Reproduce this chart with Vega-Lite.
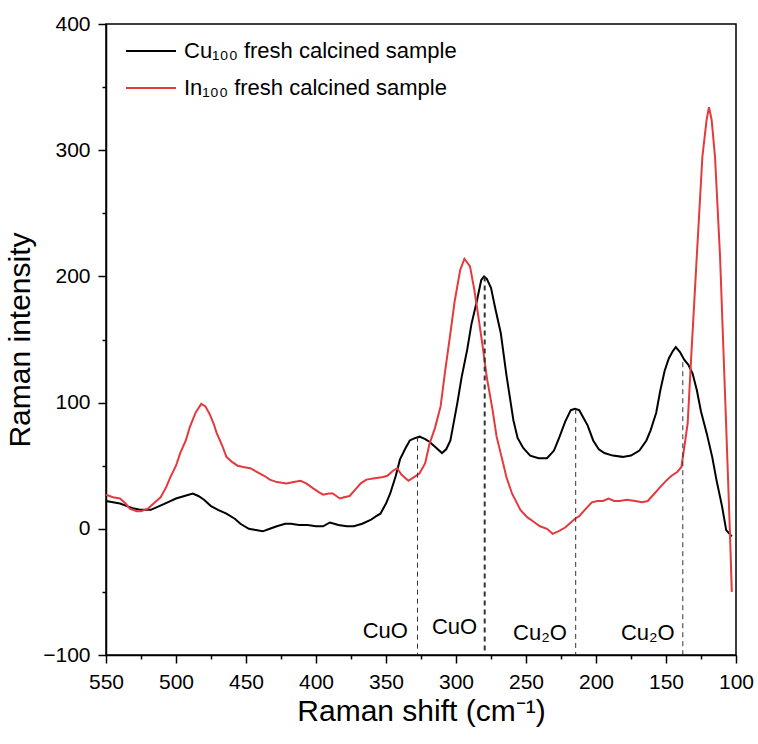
{
  "$schema": "https://vega.github.io/schema/vega-lite/v6.json",
  "width": 630,
  "height": 631,
  "autosize": "none",
  "padding": {"left": 106, "top": 24, "right": 22, "bottom": 89},
  "background": "white",
  "config": {
    "view": {"stroke": "black", "strokeWidth": 1.5},
    "font": "Liberation Sans",
    "axis": {"domainColor": "black", "domainWidth": 1.5, "tickColor": "black", "tickWidth": 1.5, "labelColor": "black", "titleColor": "black", "grid": false, "labelFont": "Liberation Sans", "titleFont": "Liberation Sans", "titleFontWeight": "normal"}
  },
  "datasets": {
    "spectra": [
      {"sample": "Cu₁₀₀ fresh calcined sample", "shift": 550, "intensity": 22},
      {"sample": "Cu₁₀₀ fresh calcined sample", "shift": 545, "intensity": 21},
      {"sample": "Cu₁₀₀ fresh calcined sample", "shift": 540, "intensity": 20},
      {"sample": "Cu₁₀₀ fresh calcined sample", "shift": 535, "intensity": 18},
      {"sample": "Cu₁₀₀ fresh calcined sample", "shift": 530, "intensity": 16},
      {"sample": "Cu₁₀₀ fresh calcined sample", "shift": 525, "intensity": 15},
      {"sample": "Cu₁₀₀ fresh calcined sample", "shift": 518, "intensity": 15},
      {"sample": "Cu₁₀₀ fresh calcined sample", "shift": 512, "intensity": 18},
      {"sample": "Cu₁₀₀ fresh calcined sample", "shift": 506, "intensity": 21},
      {"sample": "Cu₁₀₀ fresh calcined sample", "shift": 500, "intensity": 24},
      {"sample": "Cu₁₀₀ fresh calcined sample", "shift": 494, "intensity": 26},
      {"sample": "Cu₁₀₀ fresh calcined sample", "shift": 488, "intensity": 28},
      {"sample": "Cu₁₀₀ fresh calcined sample", "shift": 484, "intensity": 26},
      {"sample": "Cu₁₀₀ fresh calcined sample", "shift": 480, "intensity": 23},
      {"sample": "Cu₁₀₀ fresh calcined sample", "shift": 475, "intensity": 18},
      {"sample": "Cu₁₀₀ fresh calcined sample", "shift": 470, "intensity": 15},
      {"sample": "Cu₁₀₀ fresh calcined sample", "shift": 464, "intensity": 12},
      {"sample": "Cu₁₀₀ fresh calcined sample", "shift": 458, "intensity": 8},
      {"sample": "Cu₁₀₀ fresh calcined sample", "shift": 454, "intensity": 4},
      {"sample": "Cu₁₀₀ fresh calcined sample", "shift": 448, "intensity": 0},
      {"sample": "Cu₁₀₀ fresh calcined sample", "shift": 443, "intensity": -1},
      {"sample": "Cu₁₀₀ fresh calcined sample", "shift": 438, "intensity": -2},
      {"sample": "Cu₁₀₀ fresh calcined sample", "shift": 433, "intensity": 0},
      {"sample": "Cu₁₀₀ fresh calcined sample", "shift": 428, "intensity": 2},
      {"sample": "Cu₁₀₀ fresh calcined sample", "shift": 422, "intensity": 4},
      {"sample": "Cu₁₀₀ fresh calcined sample", "shift": 418, "intensity": 4},
      {"sample": "Cu₁₀₀ fresh calcined sample", "shift": 412, "intensity": 3},
      {"sample": "Cu₁₀₀ fresh calcined sample", "shift": 406, "intensity": 3},
      {"sample": "Cu₁₀₀ fresh calcined sample", "shift": 400, "intensity": 2},
      {"sample": "Cu₁₀₀ fresh calcined sample", "shift": 395, "intensity": 2},
      {"sample": "Cu₁₀₀ fresh calcined sample", "shift": 390, "intensity": 5},
      {"sample": "Cu₁₀₀ fresh calcined sample", "shift": 384, "intensity": 3},
      {"sample": "Cu₁₀₀ fresh calcined sample", "shift": 378, "intensity": 2},
      {"sample": "Cu₁₀₀ fresh calcined sample", "shift": 373, "intensity": 2},
      {"sample": "Cu₁₀₀ fresh calcined sample", "shift": 367, "intensity": 4},
      {"sample": "Cu₁₀₀ fresh calcined sample", "shift": 361, "intensity": 7},
      {"sample": "Cu₁₀₀ fresh calcined sample", "shift": 357, "intensity": 10},
      {"sample": "Cu₁₀₀ fresh calcined sample", "shift": 354, "intensity": 12},
      {"sample": "Cu₁₀₀ fresh calcined sample", "shift": 350, "intensity": 20},
      {"sample": "Cu₁₀₀ fresh calcined sample", "shift": 347, "intensity": 28},
      {"sample": "Cu₁₀₀ fresh calcined sample", "shift": 343, "intensity": 42},
      {"sample": "Cu₁₀₀ fresh calcined sample", "shift": 340, "intensity": 55},
      {"sample": "Cu₁₀₀ fresh calcined sample", "shift": 336, "intensity": 64},
      {"sample": "Cu₁₀₀ fresh calcined sample", "shift": 333, "intensity": 70},
      {"sample": "Cu₁₀₀ fresh calcined sample", "shift": 329, "intensity": 72},
      {"sample": "Cu₁₀₀ fresh calcined sample", "shift": 326, "intensity": 73},
      {"sample": "Cu₁₀₀ fresh calcined sample", "shift": 322, "intensity": 71},
      {"sample": "Cu₁₀₀ fresh calcined sample", "shift": 319, "intensity": 69},
      {"sample": "Cu₁₀₀ fresh calcined sample", "shift": 314, "intensity": 64},
      {"sample": "Cu₁₀₀ fresh calcined sample", "shift": 310, "intensity": 60},
      {"sample": "Cu₁₀₀ fresh calcined sample", "shift": 307, "intensity": 63},
      {"sample": "Cu₁₀₀ fresh calcined sample", "shift": 304, "intensity": 70},
      {"sample": "Cu₁₀₀ fresh calcined sample", "shift": 302, "intensity": 82},
      {"sample": "Cu₁₀₀ fresh calcined sample", "shift": 299, "intensity": 100},
      {"sample": "Cu₁₀₀ fresh calcined sample", "shift": 296, "intensity": 120},
      {"sample": "Cu₁₀₀ fresh calcined sample", "shift": 292, "intensity": 142},
      {"sample": "Cu₁₀₀ fresh calcined sample", "shift": 289, "intensity": 162},
      {"sample": "Cu₁₀₀ fresh calcined sample", "shift": 285, "intensity": 181},
      {"sample": "Cu₁₀₀ fresh calcined sample", "shift": 282, "intensity": 197},
      {"sample": "Cu₁₀₀ fresh calcined sample", "shift": 280, "intensity": 200},
      {"sample": "Cu₁₀₀ fresh calcined sample", "shift": 278, "intensity": 198},
      {"sample": "Cu₁₀₀ fresh calcined sample", "shift": 275, "intensity": 191},
      {"sample": "Cu₁₀₀ fresh calcined sample", "shift": 272, "intensity": 175},
      {"sample": "Cu₁₀₀ fresh calcined sample", "shift": 268, "intensity": 155},
      {"sample": "Cu₁₀₀ fresh calcined sample", "shift": 264, "intensity": 122},
      {"sample": "Cu₁₀₀ fresh calcined sample", "shift": 259, "intensity": 86},
      {"sample": "Cu₁₀₀ fresh calcined sample", "shift": 256, "intensity": 72},
      {"sample": "Cu₁₀₀ fresh calcined sample", "shift": 252, "intensity": 64},
      {"sample": "Cu₁₀₀ fresh calcined sample", "shift": 247, "intensity": 58},
      {"sample": "Cu₁₀₀ fresh calcined sample", "shift": 241, "intensity": 56},
      {"sample": "Cu₁₀₀ fresh calcined sample", "shift": 235, "intensity": 56},
      {"sample": "Cu₁₀₀ fresh calcined sample", "shift": 230, "intensity": 62},
      {"sample": "Cu₁₀₀ fresh calcined sample", "shift": 226, "intensity": 73},
      {"sample": "Cu₁₀₀ fresh calcined sample", "shift": 222, "intensity": 85},
      {"sample": "Cu₁₀₀ fresh calcined sample", "shift": 218, "intensity": 94},
      {"sample": "Cu₁₀₀ fresh calcined sample", "shift": 215, "intensity": 95},
      {"sample": "Cu₁₀₀ fresh calcined sample", "shift": 212, "intensity": 94},
      {"sample": "Cu₁₀₀ fresh calcined sample", "shift": 209, "intensity": 88},
      {"sample": "Cu₁₀₀ fresh calcined sample", "shift": 206, "intensity": 82},
      {"sample": "Cu₁₀₀ fresh calcined sample", "shift": 202, "intensity": 70},
      {"sample": "Cu₁₀₀ fresh calcined sample", "shift": 198, "intensity": 63},
      {"sample": "Cu₁₀₀ fresh calcined sample", "shift": 194, "intensity": 60},
      {"sample": "Cu₁₀₀ fresh calcined sample", "shift": 188, "intensity": 58},
      {"sample": "Cu₁₀₀ fresh calcined sample", "shift": 181, "intensity": 57},
      {"sample": "Cu₁₀₀ fresh calcined sample", "shift": 175, "intensity": 58},
      {"sample": "Cu₁₀₀ fresh calcined sample", "shift": 169, "intensity": 62},
      {"sample": "Cu₁₀₀ fresh calcined sample", "shift": 164, "intensity": 70},
      {"sample": "Cu₁₀₀ fresh calcined sample", "shift": 161, "intensity": 78},
      {"sample": "Cu₁₀₀ fresh calcined sample", "shift": 157, "intensity": 92},
      {"sample": "Cu₁₀₀ fresh calcined sample", "shift": 154, "intensity": 110},
      {"sample": "Cu₁₀₀ fresh calcined sample", "shift": 151, "intensity": 125},
      {"sample": "Cu₁₀₀ fresh calcined sample", "shift": 148, "intensity": 135},
      {"sample": "Cu₁₀₀ fresh calcined sample", "shift": 145, "intensity": 141},
      {"sample": "Cu₁₀₀ fresh calcined sample", "shift": 143, "intensity": 144},
      {"sample": "Cu₁₀₀ fresh calcined sample", "shift": 140, "intensity": 140},
      {"sample": "Cu₁₀₀ fresh calcined sample", "shift": 137, "intensity": 134},
      {"sample": "Cu₁₀₀ fresh calcined sample", "shift": 134, "intensity": 130},
      {"sample": "Cu₁₀₀ fresh calcined sample", "shift": 131, "intensity": 123},
      {"sample": "Cu₁₀₀ fresh calcined sample", "shift": 128, "intensity": 110},
      {"sample": "Cu₁₀₀ fresh calcined sample", "shift": 125, "intensity": 93},
      {"sample": "Cu₁₀₀ fresh calcined sample", "shift": 121, "intensity": 76},
      {"sample": "Cu₁₀₀ fresh calcined sample", "shift": 117, "intensity": 57},
      {"sample": "Cu₁₀₀ fresh calcined sample", "shift": 114, "intensity": 39},
      {"sample": "Cu₁₀₀ fresh calcined sample", "shift": 110, "intensity": 18},
      {"sample": "Cu₁₀₀ fresh calcined sample", "shift": 107, "intensity": -1},
      {"sample": "Cu₁₀₀ fresh calcined sample", "shift": 103, "intensity": -6},
      {"sample": "In₁₀₀ fresh calcined sample", "shift": 550, "intensity": 27},
      {"sample": "In₁₀₀ fresh calcined sample", "shift": 545, "intensity": 25},
      {"sample": "In₁₀₀ fresh calcined sample", "shift": 540, "intensity": 24},
      {"sample": "In₁₀₀ fresh calcined sample", "shift": 536, "intensity": 20},
      {"sample": "In₁₀₀ fresh calcined sample", "shift": 533, "intensity": 16},
      {"sample": "In₁₀₀ fresh calcined sample", "shift": 528, "intensity": 14},
      {"sample": "In₁₀₀ fresh calcined sample", "shift": 525, "intensity": 14},
      {"sample": "In₁₀₀ fresh calcined sample", "shift": 520, "intensity": 16},
      {"sample": "In₁₀₀ fresh calcined sample", "shift": 515, "intensity": 21},
      {"sample": "In₁₀₀ fresh calcined sample", "shift": 511, "intensity": 25},
      {"sample": "In₁₀₀ fresh calcined sample", "shift": 507, "intensity": 33},
      {"sample": "In₁₀₀ fresh calcined sample", "shift": 504, "intensity": 41},
      {"sample": "In₁₀₀ fresh calcined sample", "shift": 500, "intensity": 50},
      {"sample": "In₁₀₀ fresh calcined sample", "shift": 497, "intensity": 60},
      {"sample": "In₁₀₀ fresh calcined sample", "shift": 493, "intensity": 70},
      {"sample": "In₁₀₀ fresh calcined sample", "shift": 490, "intensity": 81},
      {"sample": "In₁₀₀ fresh calcined sample", "shift": 486, "intensity": 92},
      {"sample": "In₁₀₀ fresh calcined sample", "shift": 482, "intensity": 99},
      {"sample": "In₁₀₀ fresh calcined sample", "shift": 479, "intensity": 97},
      {"sample": "In₁₀₀ fresh calcined sample", "shift": 476, "intensity": 91},
      {"sample": "In₁₀₀ fresh calcined sample", "shift": 473, "intensity": 83},
      {"sample": "In₁₀₀ fresh calcined sample", "shift": 471, "intensity": 76},
      {"sample": "In₁₀₀ fresh calcined sample", "shift": 467, "intensity": 66},
      {"sample": "In₁₀₀ fresh calcined sample", "shift": 464, "intensity": 57},
      {"sample": "In₁₀₀ fresh calcined sample", "shift": 460, "intensity": 53},
      {"sample": "In₁₀₀ fresh calcined sample", "shift": 456, "intensity": 50},
      {"sample": "In₁₀₀ fresh calcined sample", "shift": 452, "intensity": 49},
      {"sample": "In₁₀₀ fresh calcined sample", "shift": 447, "intensity": 48},
      {"sample": "In₁₀₀ fresh calcined sample", "shift": 442, "intensity": 45},
      {"sample": "In₁₀₀ fresh calcined sample", "shift": 437, "intensity": 42},
      {"sample": "In₁₀₀ fresh calcined sample", "shift": 433, "intensity": 39},
      {"sample": "In₁₀₀ fresh calcined sample", "shift": 428, "intensity": 37},
      {"sample": "In₁₀₀ fresh calcined sample", "shift": 421, "intensity": 36},
      {"sample": "In₁₀₀ fresh calcined sample", "shift": 416, "intensity": 37},
      {"sample": "In₁₀₀ fresh calcined sample", "shift": 411, "intensity": 38},
      {"sample": "In₁₀₀ fresh calcined sample", "shift": 407, "intensity": 36},
      {"sample": "In₁₀₀ fresh calcined sample", "shift": 402, "intensity": 32},
      {"sample": "In₁₀₀ fresh calcined sample", "shift": 398, "intensity": 29},
      {"sample": "In₁₀₀ fresh calcined sample", "shift": 395, "intensity": 27},
      {"sample": "In₁₀₀ fresh calcined sample", "shift": 391, "intensity": 28},
      {"sample": "In₁₀₀ fresh calcined sample", "shift": 388, "intensity": 28},
      {"sample": "In₁₀₀ fresh calcined sample", "shift": 383, "intensity": 24},
      {"sample": "In₁₀₀ fresh calcined sample", "shift": 380, "intensity": 25},
      {"sample": "In₁₀₀ fresh calcined sample", "shift": 376, "intensity": 26},
      {"sample": "In₁₀₀ fresh calcined sample", "shift": 372, "intensity": 31},
      {"sample": "In₁₀₀ fresh calcined sample", "shift": 368, "intensity": 36},
      {"sample": "In₁₀₀ fresh calcined sample", "shift": 364, "intensity": 39},
      {"sample": "In₁₀₀ fresh calcined sample", "shift": 358, "intensity": 40},
      {"sample": "In₁₀₀ fresh calcined sample", "shift": 352, "intensity": 41},
      {"sample": "In₁₀₀ fresh calcined sample", "shift": 349, "intensity": 42},
      {"sample": "In₁₀₀ fresh calcined sample", "shift": 345, "intensity": 46},
      {"sample": "In₁₀₀ fresh calcined sample", "shift": 342, "intensity": 48},
      {"sample": "In₁₀₀ fresh calcined sample", "shift": 339, "intensity": 43},
      {"sample": "In₁₀₀ fresh calcined sample", "shift": 336, "intensity": 40},
      {"sample": "In₁₀₀ fresh calcined sample", "shift": 334, "intensity": 38},
      {"sample": "In₁₀₀ fresh calcined sample", "shift": 330, "intensity": 41},
      {"sample": "In₁₀₀ fresh calcined sample", "shift": 326, "intensity": 44},
      {"sample": "In₁₀₀ fresh calcined sample", "shift": 322, "intensity": 52},
      {"sample": "In₁₀₀ fresh calcined sample", "shift": 319, "intensity": 67},
      {"sample": "In₁₀₀ fresh calcined sample", "shift": 315, "intensity": 80},
      {"sample": "In₁₀₀ fresh calcined sample", "shift": 311, "intensity": 97},
      {"sample": "In₁₀₀ fresh calcined sample", "shift": 308, "intensity": 123},
      {"sample": "In₁₀₀ fresh calcined sample", "shift": 304, "intensity": 155},
      {"sample": "In₁₀₀ fresh calcined sample", "shift": 301, "intensity": 180},
      {"sample": "In₁₀₀ fresh calcined sample", "shift": 297, "intensity": 205},
      {"sample": "In₁₀₀ fresh calcined sample", "shift": 294, "intensity": 214},
      {"sample": "In₁₀₀ fresh calcined sample", "shift": 290, "intensity": 208},
      {"sample": "In₁₀₀ fresh calcined sample", "shift": 287, "intensity": 190},
      {"sample": "In₁₀₀ fresh calcined sample", "shift": 284, "intensity": 168},
      {"sample": "In₁₀₀ fresh calcined sample", "shift": 281, "intensity": 145},
      {"sample": "In₁₀₀ fresh calcined sample", "shift": 278, "intensity": 120},
      {"sample": "In₁₀₀ fresh calcined sample", "shift": 274, "intensity": 95},
      {"sample": "In₁₀₀ fresh calcined sample", "shift": 271, "intensity": 73},
      {"sample": "In₁₀₀ fresh calcined sample", "shift": 267, "intensity": 55},
      {"sample": "In₁₀₀ fresh calcined sample", "shift": 264, "intensity": 41},
      {"sample": "In₁₀₀ fresh calcined sample", "shift": 260, "intensity": 28},
      {"sample": "In₁₀₀ fresh calcined sample", "shift": 254, "intensity": 15},
      {"sample": "In₁₀₀ fresh calcined sample", "shift": 249, "intensity": 9},
      {"sample": "In₁₀₀ fresh calcined sample", "shift": 245, "intensity": 6},
      {"sample": "In₁₀₀ fresh calcined sample", "shift": 240, "intensity": 2},
      {"sample": "In₁₀₀ fresh calcined sample", "shift": 235, "intensity": 0},
      {"sample": "In₁₀₀ fresh calcined sample", "shift": 231, "intensity": -4},
      {"sample": "In₁₀₀ fresh calcined sample", "shift": 227, "intensity": -2},
      {"sample": "In₁₀₀ fresh calcined sample", "shift": 222, "intensity": 1},
      {"sample": "In₁₀₀ fresh calcined sample", "shift": 218, "intensity": 5},
      {"sample": "In₁₀₀ fresh calcined sample", "shift": 215, "intensity": 8},
      {"sample": "In₁₀₀ fresh calcined sample", "shift": 212, "intensity": 10},
      {"sample": "In₁₀₀ fresh calcined sample", "shift": 208, "intensity": 15},
      {"sample": "In₁₀₀ fresh calcined sample", "shift": 203, "intensity": 21},
      {"sample": "In₁₀₀ fresh calcined sample", "shift": 199, "intensity": 22},
      {"sample": "In₁₀₀ fresh calcined sample", "shift": 195, "intensity": 22},
      {"sample": "In₁₀₀ fresh calcined sample", "shift": 191, "intensity": 24},
      {"sample": "In₁₀₀ fresh calcined sample", "shift": 187, "intensity": 22},
      {"sample": "In₁₀₀ fresh calcined sample", "shift": 183, "intensity": 22},
      {"sample": "In₁₀₀ fresh calcined sample", "shift": 178, "intensity": 23},
      {"sample": "In₁₀₀ fresh calcined sample", "shift": 172, "intensity": 22},
      {"sample": "In₁₀₀ fresh calcined sample", "shift": 167, "intensity": 21},
      {"sample": "In₁₀₀ fresh calcined sample", "shift": 163, "intensity": 22},
      {"sample": "In₁₀₀ fresh calcined sample", "shift": 159, "intensity": 27},
      {"sample": "In₁₀₀ fresh calcined sample", "shift": 155, "intensity": 32},
      {"sample": "In₁₀₀ fresh calcined sample", "shift": 150, "intensity": 38},
      {"sample": "In₁₀₀ fresh calcined sample", "shift": 146, "intensity": 42},
      {"sample": "In₁₀₀ fresh calcined sample", "shift": 142, "intensity": 45},
      {"sample": "In₁₀₀ fresh calcined sample", "shift": 139, "intensity": 49},
      {"sample": "In₁₀₀ fresh calcined sample", "shift": 136.5, "intensity": 68},
      {"sample": "In₁₀₀ fresh calcined sample", "shift": 134.5, "intensity": 84},
      {"sample": "In₁₀₀ fresh calcined sample", "shift": 132, "intensity": 136},
      {"sample": "In₁₀₀ fresh calcined sample", "shift": 128, "intensity": 216},
      {"sample": "In₁₀₀ fresh calcined sample", "shift": 124, "intensity": 295},
      {"sample": "In₁₀₀ fresh calcined sample", "shift": 121, "intensity": 324},
      {"sample": "In₁₀₀ fresh calcined sample", "shift": 119.3, "intensity": 334},
      {"sample": "In₁₀₀ fresh calcined sample", "shift": 117.4, "intensity": 324},
      {"sample": "In₁₀₀ fresh calcined sample", "shift": 115, "intensity": 295},
      {"sample": "In₁₀₀ fresh calcined sample", "shift": 111.4, "intensity": 216},
      {"sample": "In₁₀₀ fresh calcined sample", "shift": 107.1, "intensity": 84},
      {"sample": "In₁₀₀ fresh calcined sample", "shift": 104.3, "intensity": -4},
      {"sample": "In₁₀₀ fresh calcined sample", "shift": 103, "intensity": -50}
    ],
    "peaks": [
      {"shift": 327.5, "top": 73, "main": false},
      {"shift": 279.5, "top": 200, "main": true},
      {"shift": 214.5, "top": 95, "main": false},
      {"shift": 138, "top": 132, "main": false}
    ],
    "labels": [
      {"shift": 350.5, "intensity": -81, "label": "CuO"},
      {"shift": 301, "intensity": -78, "label": "CuO"},
      {"shift": 240, "intensity": -82.5, "label": "Cu₂O"},
      {"shift": 163, "intensity": -82.5, "label": "Cu₂O"}
    ]
  },
  "resolve": {"axis": {"x": "independent", "y": "independent"}},
  "layer": [
    {
      "data": {"name": "spectra"},
      "mark": {"type": "line", "strokeWidth": 2},
      "encoding": {
        "x": {"field": "shift", "type": "quantitative",
              "scale": {"domain": [100, 550], "reverse": true, "nice": false, "zero": false},
              "axis": {"orient": "bottom", "values": [550, 500, 450, 400, 350, 300, 250, 200, 150, 100], "tickSize": 8, "labelFontSize": 21, "labelPadding": 8, "title": "Raman shift (cm⁻¹)", "titleFontSize": 30, "titlePadding": 4, "labelFlush": false}},
        "y": {"field": "intensity", "type": "quantitative",
              "scale": {"domain": [-100, 400], "nice": false, "zero": false},
              "axis": {"orient": "left", "values": [-100, 0, 100, 200, 300, 400], "tickSize": 8, "labelFontSize": 21, "labelPadding": 8, "title": "Raman intensity", "titleFontSize": 30, "titlePadding": 7, "labelFlush": false}},
        "color": {"field": "sample", "type": "nominal",
                  "scale": {"domain": ["Cu₁₀₀ fresh calcined sample", "In₁₀₀ fresh calcined sample"], "range": ["#000000", "#e5393d"]},
                  "legend": {"title": null, "orient": "none", "legendX": 19, "legendY": 1, "symbolType": "stroke", "symbolSize": 2500, "symbolStrokeWidth": 2, "labelFontSize": 22, "labelFont": "Liberation Sans", "labelColor": "black", "labelLimit": 0, "rowPadding": -23, "labelOffset": 7}},
        "order": {"field": "shift", "sort": "descending"}
      }
    },
    {
      "data": {"name": "peaks"},
      "mark": {"type": "rule", "strokeDash": [5, 4], "color": "#333333"},
      "encoding": {
        "x": {"field": "shift", "type": "quantitative",
              "axis": {"orient": "bottom", "values": [525, 475, 425, 375, 325, 275, 225, 175, 125], "tickSize": 4, "labels": false, "domain": false, "title": null}},
        "y": {"field": "top", "type": "quantitative",
              "axis": {"orient": "left", "values": [-50, 50, 150, 250, 350], "tickSize": 4, "labels": false, "domain": false, "title": null}},
        "y2": {"datum": -100},
        "strokeWidth": {"condition": {"test": "datum.main", "value": 2}, "value": 1}
      }
    },
    {
      "data": {"name": "labels"},
      "mark": {"type": "text", "fontSize": 22, "font": "Liberation Sans", "color": "black"},
      "encoding": {
        "x": {"field": "shift", "type": "quantitative", "axis": null},
        "y": {"field": "intensity", "type": "quantitative", "axis": null},
        "text": {"field": "label"}
      }
    }
  ]
}
